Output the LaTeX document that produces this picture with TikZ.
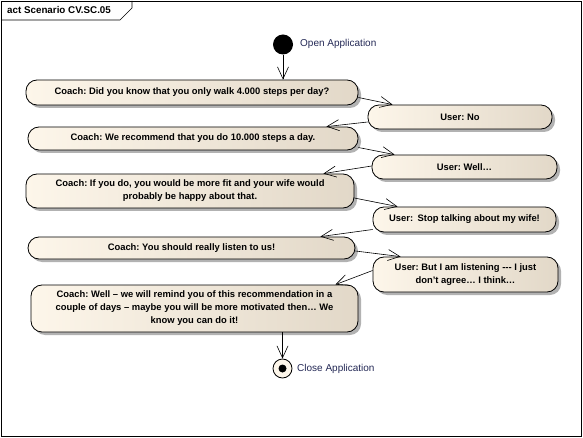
\documentclass[tikz,border=0pt]{standalone}
\usepackage{fontspec}
\setmainfont{Liberation Sans}
\usetikzlibrary{arrows.meta,shadows,positioning}
\frenchspacing

\definecolor{creamL}{RGB}{253,246,234}
\definecolor{creamR}{RGB}{226,216,200}
\definecolor{lblcol}{RGB}{35,40,85}

\tikzset{
  act/.style={rounded corners=11pt, draw=black, line width=0.8pt,
    left color=creamL, right color=creamR, align=center, inner sep=0pt,
    font=\bfseries\fontsize{9.4}{13}\selectfont,
    drop shadow={shadow xshift=3pt, shadow yshift=-3pt, fill=black!30, opacity=1}},
  flow/.style={-{Straight Barb[length=12pt,width=11pt]}, line width=0.6pt},
  lbl/.style={font=\fontsize{10}{12}\selectfont, text=lblcol, inner sep=0pt},
}

\begin{document}
\begin{tikzpicture}[x=1pt,y=-1pt]
  \useasboundingbox (0,0) rectangle (583,438);

  % Cadre du diagramme
  \draw[line width=0.6pt] (1,1) rectangle (581,436);
  \draw[line width=0.6pt] (1,20) -- (120,20) -- (132,8) -- (132,1);
  \node[anchor=west, font=\bfseries\fontsize{9.8}{12}\selectfont, inner sep=0pt] (title) at (7,10.5) {act Scenario CV.SC.05};

  % Noeud initial
  \node[circle, fill=black, minimum size=20pt, inner sep=0pt] (start) at (283,44.5) {};
  \node[lbl, anchor=west] (startlbl) at (300,44) {Open Application};

  % Actions
  \node[act, minimum width=332pt, minimum height=25pt] (c1) at (192,92.5) {Coach: Did you know that you only walk 4.000 steps per day?};
  \node[act, minimum width=184pt, minimum height=24pt] (u1) at (460,117) {User: No};
  \node[act, minimum width=330pt, minimum height=23pt] (c2) at (193,138.5) {Coach: We recommend that you do 10.000 steps a day.};
  \node[act, minimum width=185pt, minimum height=24pt] (u2) at (464.5,167) {User: Well…};
  \node[act, minimum width=328pt, minimum height=34pt] (c3) at (190,191) {Coach: If you do, you would be more fit and your wife would\\probably be happy about that.};
  \node[act, minimum width=183pt, minimum height=25pt] (u3) at (464.5,219.5) {User:\hspace{4.5pt}Stop talking about my wife!};
  \node[act, minimum width=327pt, minimum height=22pt] (c4) at (191.5,248) {Coach: You should really listen to us!};
  \node[act, minimum width=185pt, minimum height=35pt] (u4) at (465.5,274.5) {User: But I am listening -{}-{}- I just\\don’t agree… I think…};
  \node[act, minimum width=327pt, minimum height=47pt] (c5) at (194.5,308.5) {Coach: Well – we will remind you of this recommendation in a\\couple of days – maybe you will be more motivated then… We\\know you can do it!};

  % Noeud final
  \node[circle, draw=black, line width=0.8pt, fill=creamL, minimum size=19pt, inner sep=0pt] (stop) at (282.5,368.5) {};
  \fill[black] (stop.center) circle (4);
  \node[lbl, anchor=west] (stoplbl) at (297,368.5) {Close Application};

  % Transitions
  \draw[flow] (start) -- (start |- c1.north);
  \draw[flow] ([yshift=-5pt]c1.east) -- ([xshift=25pt]u1.north west);
  \draw[flow] ([yshift=-5pt]u1.west) -- ([xshift=-32pt]c2.north east);
  \draw[flow] ([yshift=-9pt]c2.east) -- ([xshift=23pt]u2.north west);
  \draw[flow] ([yshift=1pt]u2.west) -- ([xshift=-31pt]c3.north east);
  \draw[flow] ([yshift=-7pt]c3.east) -- ([xshift=25pt]u3.north west);
  \draw[flow] ([yshift=-10pt]u3.west) -- ([xshift=-35pt]c4.north east);
  \draw[flow] ([yshift=-3pt]c4.east) -- ([xshift=28pt]u4.north west);
  \draw[flow] ([yshift=4pt]u4.west) -- ([xshift=-23pt]c5.north east);
  \draw[flow] (stop |- c5.south) -- (stop);
\end{tikzpicture}
\end{document}
